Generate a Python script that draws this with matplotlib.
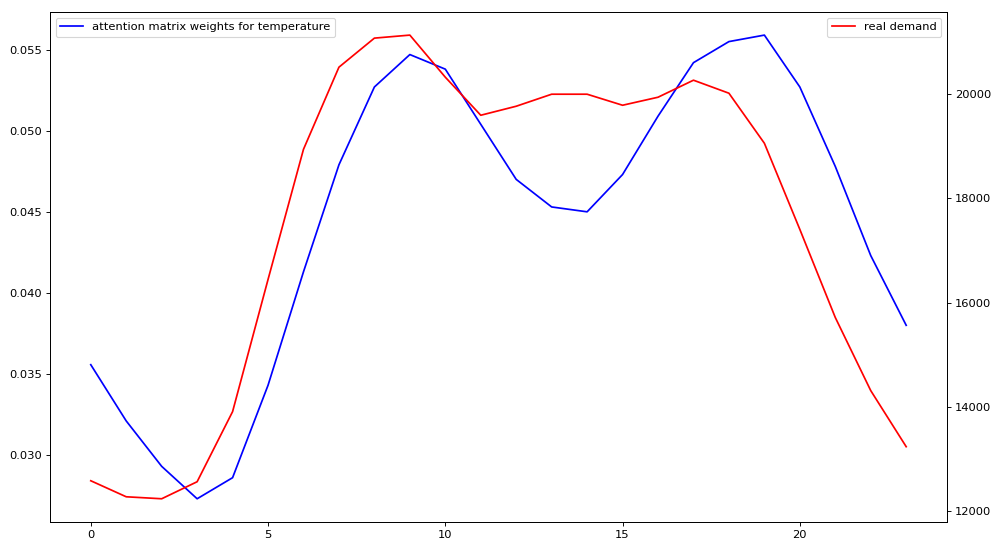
import matplotlib
matplotlib.use('Agg')
import matplotlib.pyplot as plt
import numpy as np

hours = np.arange(24)

attention_temp = [0.03557, 0.0321, 0.0293, 0.0273, 0.0286, 0.0343, 0.0413, 0.0479,
                  0.0527, 0.0547, 0.0538, 0.0504, 0.0470, 0.0453, 0.0450, 0.0473,
                  0.0509, 0.0542, 0.0555, 0.0559, 0.0527, 0.0478, 0.0423, 0.0380]

real_demand = [12577, 12269, 12231, 12558, 13904, 16442, 18942, 20519,
               21077, 21135, 20327, 19596, 19769, 20000, 20000, 19788,
               19942, 20269, 20019, 19058, 17404, 15712, 14308, 13231]

dpi = 992 / 12
fig, ax1 = plt.subplots(figsize=(12, 542 / dpi), dpi=dpi)
fig.subplots_adjust(left=0.0504, right=0.9546, top=0.978, bottom=0.037)

ax1.plot(hours, attention_temp, color='blue', label='attention matrix weights for temperature')
ax1.legend(loc='upper left')

ax2 = ax1.twinx()
ax2.plot(hours, real_demand, color='red', label='real demand')
ax2.legend(loc='upper right')

fig.savefig('out.png', dpi=dpi)
